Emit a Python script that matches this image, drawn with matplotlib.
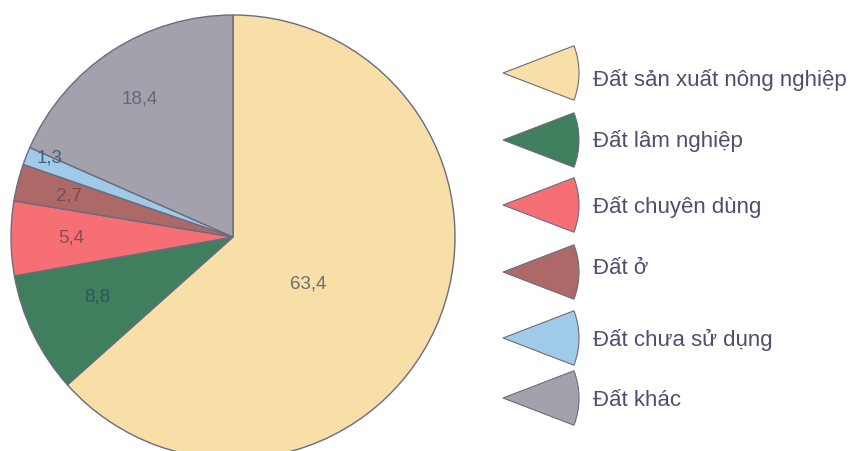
import matplotlib
matplotlib.use("Agg")
import matplotlib.pyplot as plt
from matplotlib.patches import Wedge
import numpy as np

# Land use structure (%)
categories = ["Đất sản xuất nông nghiệp", "Đất lâm nghiệp", "Đất chuyên dùng",
              "Đất ở", "Đất chưa sử dụng", "Đất khác"]
values = [63.4, 8.8, 5.4, 2.7, 1.3, 18.4]
value_labels = ["63,4", "8,8", "5,4", "2,7", "1,3", "18,4"]

colors = ["#f8dfa8", "#3f7f5e", "#f66f74", "#ad6868", "#9fcbe8", "#a3a1ab"]
label_colors = ["#6e6e72", "#2f5563", "#8a4a55", "#7c4a50", "#4a5d80", "#66667a"]
# label placement: fraction of radius and angular shift (deg) from the wedge middle
label_dist = [0.40, 0.67, 0.73, 0.76, 0.90, 0.75]
label_shift = [-8, -2, 0, 0, -2, 1]

W, H = 856, 451
fig = plt.figure(figsize=(W / 100, H / 100), dpi=100)
fig.patch.set_facecolor("white")
ax = fig.add_axes([0, 0, 1, 1])

cx, cy, R = 233, H - 237, 222
wedges, _ = ax.pie(values, colors=colors, startangle=90, counterclock=False,
                   center=(cx, cy), radius=R,
                   wedgeprops=dict(edgecolor="#6b6b80", linewidth=1.0))

for w, lab, d, s, lc in zip(wedges, value_labels, label_dist, label_shift, label_colors):
    mid = np.deg2rad((w.theta1 + w.theta2) / 2 + s)
    ax.text(cx + d * R * np.cos(mid), cy + d * R * np.sin(mid), lab,
            ha="center", va="center", fontsize=13.5, color=lc,
            family="Liberation Sans")

# Legend with sector-shaped keys
key_y = [73, 140, 205, 272, 338, 398]
text_y = [80, 141, 207, 268, 340, 401]
apex_x = 503
for c, name, ky, ty in zip(colors, categories, key_y, text_y):
    ax.add_patch(Wedge((apex_x, H - ky), 76, -21, 21, facecolor=c,
                       edgecolor="#6b6b80", linewidth=0.8))
    ax.text(593, H - ty, name, ha="left", va="center", fontsize=16,
            color="#4e4f6e", family="Liberation Sans")

ax.set_xlim(0, W)
ax.set_ylim(0, H)
ax.set_aspect("equal")
ax.axis("off")

fig.savefig("out.png", dpi=100, facecolor="white")
